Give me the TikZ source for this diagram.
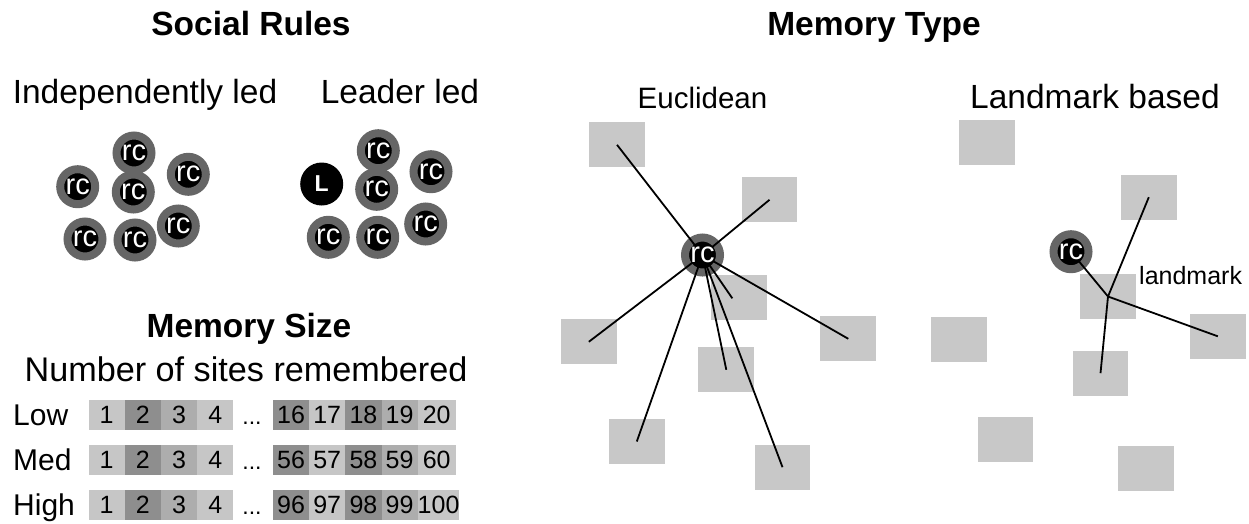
\documentclass[tikz,border=0pt]{standalone}
\usepackage{fontspec}
\setmainfont{Liberation Sans}
\newcommand{\fsz}[1]{\fontsize{#1}{#1}\selectfont}
\definecolor{ringgray}{HTML}{666666}
\definecolor{sq}{HTML}{C8C8C8}
\definecolor{cl}{HTML}{C6C6C6}
\definecolor{cd}{HTML}{8E8E8E}
\definecolor{cm}{HTML}{ADADAD}
\tikzset{
  ttl/.style={font=\fsz{33.5}\bfseries, anchor=base, inner sep=0pt},
  lbl/.style={font=\fsz{33.5}, anchor=base, inner sep=0pt},
  rowlbl/.style={font=\fsz{30}, anchor=base west, inner sep=0pt},
  rcnode/.style={circle, fill=black, draw=ringgray, line width=8pt, minimum size=35pt, inner sep=0pt, text=white, font=\fsz{29}},
  rctext/.style={inner sep=0pt, text=white, font=\fsz{29}},
  lnode/.style={circle, fill=black, minimum size=43pt, inner sep=0pt, text=white, font=\fsz{23}\bfseries},
  cell/.style={anchor=north west, minimum width=36.2pt, minimum height=30pt, inner sep=0pt, font=\fsz{25}},
  dotsn/.style={anchor=base, inner sep=0pt, font=\fsz{23}},
  site/.style={fill=sq, minimum width=55.7pt, minimum height=45pt, inner sep=0pt},
  link/.style={line width=1.8pt, black},
}
\begin{document}
\begin{tikzpicture}[x=1pt,y=-1pt]
\useasboundingbox (0,0) rectangle (1249,523);
% titles
\node[ttl] (t1) at (251,35.5) {Social Rules};
\node[ttl] (t2) at (874,35.5) {Memory Type};
\node[ttl] (t3) at (249,337.5) {Memory Size};
\node[lbl] (t4) at (145,103.3) {Independently led};
\node[lbl] (t5) at (400,103.3) {Leader led};
\node[lbl, font=\fsz{34.2}] (t6) at (246,381.5) {Number of sites remembered};
\node[lbl, font=\fsz{29.5}] (t7) at (702.5,108) {Euclidean};
\node[lbl] (t8) at (1095,108.5) {Landmark based};
% independently led
\node[rcnode] (a1) at (134,153) {rc};
\node[rcnode] (a2) at (77.7,186.7) {rc};
\node[rcnode] (a3) at (133.3,192) {rc};
\node[rcnode] (a4) at (188.3,174.3) {rc};
\node[rcnode] (a5) at (178.3,226) {rc};
\node[rcnode] (a6) at (85,239) {rc};
\node[rcnode] (a7) at (135,240) {rc};
% leader led
\node[lnode] (b0) at (321.7,184) {L};
\node[rcnode] (b1) at (378.3,150.7) {rc};
\node[rcnode] (b2) at (376.7,189.3) {rc};
\node[rcnode] (b3) at (431,171.7) {rc};
\node[rcnode] (b4) at (425.7,224) {rc};
\node[rcnode] (b5) at (328.3,237.3) {rc};
\node[rcnode] (b6) at (377.7,237.3) {rc};
% memory size rows
\foreach \r/\y/\lab/\a/\b/\c/\d/\e in {L/400/Low/16/17/18/19/20, M/445/Med/56/57/58/59/60, H/490/High/96/97/98/99/100}{
  \node[rowlbl] (\r lab) at (13,\y+25.7) {\lab};
  \node[cell,fill=cl] (\r c1) at (88.3,\y) {1};
  \node[cell,fill=cd] (\r c2) at (124.5,\y) {2};
  \node[cell,fill=cm] (\r c3) at (160.7,\y) {3};
  \node[cell,fill=cl] (\r c4) at (196.9,\y) {4};
  \node[dotsn] (\r dots) at (252,\y+24) {...};
  \node[cell,fill=cd] (\r c5) at (272.7,\y) {\a};
  \node[cell,fill=cl] (\r c6) at (308.9,\y) {\b};
  \node[cell,fill=cd] (\r c7) at (345.1,\y) {\c};
  \node[cell,fill=cm] (\r c8) at (381.3,\y) {\d};
  \node[cell,fill=cl, minimum width=38pt] (\r c9) at (417.5,\y) {\e};
}
% Euclidean
\node[site] (e1) at (617,144.8) {};
\node[site] (e2) at (769.5,199.8) {};
\node[site] (e3) at (738.7,297.5) {};
\node[site] (e4) at (588.8,341.8) {};
\node[site] (e5) at (848.3,338.8) {};
\node[site] (e6) at (726.3,369.8) {};
\node[site] (e7) at (636.8,441.5) {};
\node[site] (e8) at (782.5,467.2) {};
\node[rcnode] (er) at (702.5,255) {};
\coordinate (e3p) at (732.3,298.3);
\foreach \s in {e1,e2,e3p,e4,e5,e6,e7,e8}{
  \draw[link] (er.center) -- (\s.center);
}
\node[rctext] (ert) at (er.center) {rc};
% Landmark based
\node[site] (l1) at (986.8,142.2) {};
\node[site] (l2) at (1148.8,197.2) {};
\node[site] (l3) at (1108,296.5) {};
\node[site] (l4) at (958.8,339.2) {};
\node[site] (l5) at (1217.8,336.3) {};
\node[site] (l6) at (1100.5,373.2) {};
\node[site] (l7) at (1005.5,439.2) {};
\node[site] (l8) at (1145.8,468.5) {};
\node[rcnode] (lr) at (1071,251.7) {};
\draw[link] (lr.center) -- (l3.center);
\foreach \s in {l2,l5,l6}{
  \draw[link] (l3.center) -- (\s.center);
}
\node[rctext] (lrt) at (lr.center) {rc};
\node[lbl, font=\fsz{25}, anchor=base west] (lm) at (1139,284.5) {landmark};
\end{tikzpicture}
\end{document}
